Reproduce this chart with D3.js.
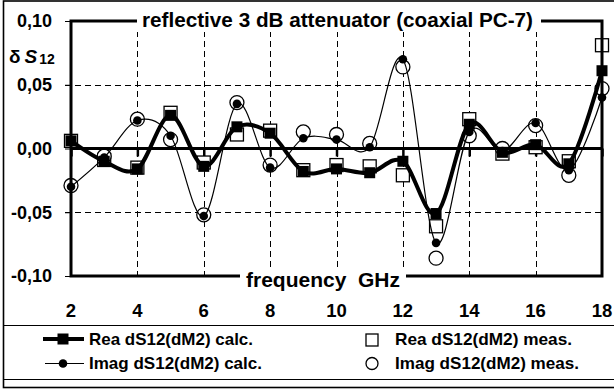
<!DOCTYPE html>
<html>
<head>
<meta charset="utf-8">
<script src="https://cdn.jsdelivr.net/npm/d3@7"></script>
<style>
    body { margin: 0; background: #fff; }
    svg { display: block; }
    text { font-family: "Liberation Sans", Arial, sans-serif; font-weight: bold; fill: #000; }
</style>
</head>
<body>
<svg id="chart" width="614" height="392"></svg>
<script>
// values
var freq = [2, 3, 4, 5, 6, 7, 8, 9, 10, 11, 12, 13, 14, 15, 16, 17, 18];
var reCalc = [0.006, -0.010, -0.016, 0.026, -0.014, 0.017, 0.012, -0.018, -0.016, -0.019, -0.010, -0.051, 0.019, -0.003, 0.003, -0.012, 0.061];
var reMeas = [0.006, -0.009, -0.015, 0.028, -0.011, 0.011, 0.014, -0.017, -0.013, -0.014, -0.021, -0.061, 0.023, -0.004, 0.001, -0.010, 0.081];
var imCalc = [-0.030, -0.007, 0.022, 0.010, -0.053, 0.035, -0.015, 0.008, 0.007, 0.001, 0.070, -0.074, 0.013, -0.002, 0.020, -0.017, 0.040];
var imMeas = [-0.029, -0.006, 0.023, 0.007, -0.052, 0.036, -0.013, 0.013, 0.011, 0.004, 0.064, -0.086, 0.010, 0.000, 0.018, -0.021, 0.047];
var xTicks = [2, 4, 6, 8, 10, 12, 14, 16, 18];
var yTicks = [-0.10, -0.05, 0.00, 0.05, 0.10];
var legendNames = ['Rea dS12(dM2) calc.', 'Imag dS12(dM2) calc.', 'Rea dS12(dM2) meas.', 'Imag dS12(dM2) meas.'];

var svg = d3.select('#chart');
var x = d3.scaleLinear().domain([2, 18]).range([71, 602]);
var y = d3.scaleLinear().domain([-0.1, 0.1]).range([276, 21]);
var comma = d3.formatLocale({decimal: ',', thousands: '.', grouping: [3], currency: ['', ''], minus: '-'}).format('.2f');

function pts(vals) {
    return freq.map(function (f, i) { return [f, vals[i]]; });
}

// outer frame and legend separators
svg.append('rect').attr('x', 3.5).attr('y', 1).attr('width', 620).attr('height', 386.5)
    .attr('fill', 'none').attr('stroke', '#000').attr('stroke-width', 1.6);
svg.append('line').attr('x1', 3).attr('x2', 614).attr('y1', 325.5).attr('y2', 325.5).attr('stroke', '#000');
svg.append('line').attr('x1', 3).attr('x2', 614).attr('y1', 379.5).attr('y2', 379.5).attr('stroke', '#000');

// dashed grid
var grid = svg.append('g').attr('stroke', '#000').attr('stroke-width', 1).attr('stroke-dasharray', '6,4');
grid.selectAll('line.v').data(xTicks.slice(1, -1)).enter().append('line')
    .attr('x1', function (d) { return Math.round(x(d)) + 0.5; })
    .attr('x2', function (d) { return Math.round(x(d)) + 0.5; })
    .attr('y1', y(0.1)).attr('y2', y(-0.1));
grid.selectAll('line.h').data([-0.05, 0.05]).enter().append('line')
    .attr('x1', x(2) - 6).attr('x2', x(18))
    .attr('y1', function (d) { return Math.round(y(d)) + 0.5; })
    .attr('y2', function (d) { return Math.round(y(d)) + 0.5; });

// y axis with comma decimals
var yAxis = svg.append('g').attr('transform', 'translate(' + x(2) + ',0)')
    .call(d3.axisLeft(y).tickValues(yTicks).tickSize(6).tickPadding(13).tickFormat(comma));
yAxis.select('.domain').remove();
yAxis.selectAll('text').style('font-size', '18px').attr('font-family', null);

// ticks on the zero line
var xAxis = svg.append('g').attr('transform', 'translate(0,' + y(0) + ')')
    .call(d3.axisBottom(x).tickValues(xTicks).tickSize(8).tickFormat(''));
xAxis.select('.domain').remove();
xAxis.selectAll('line').attr('stroke-width', 2.5);

// x tick labels under the plot
svg.append('g').selectAll('text').data(xTicks).enter().append('text')
    .attr('x', function (d) { return x(d); })
    .attr('y', 316.5)
    .attr('text-anchor', 'middle')
    .style('font-size', '18.5px')
    .text(function (d) { return d; });

// measured markers
svg.append('g').selectAll('rect').data(pts(reMeas)).enter().append('rect')
    .attr('x', function (d) { return x(d[0]) - 6.5; })
    .attr('y', function (d) { return y(d[1]) - 6.5; })
    .attr('width', 13).attr('height', 13)
    .attr('fill', '#fff').attr('stroke', '#000').attr('stroke-width', 1.3);
svg.append('g').selectAll('circle').data(pts(imMeas)).enter().append('circle')
    .attr('cx', function (d) { return x(d[0]); })
    .attr('cy', function (d) { return y(d[1]); })
    .attr('r', 7)
    .attr('fill', '#fff').attr('stroke', '#000').attr('stroke-width', 1.3);

// smoothed calc lines
var line = d3.line()
    .x(function (d) { return x(d[0]); })
    .y(function (d) { return y(d[1]); })
    .curve(d3.curveCardinal.tension(0));

svg.append('path').datum(pts(imCalc)).attr('d', line)
    .attr('fill', 'none').attr('stroke', '#000').attr('stroke-width', 1.2);
svg.append('g').selectAll('circle').data(pts(imCalc)).enter().append('circle')
    .attr('cx', function (d) { return x(d[0]); })
    .attr('cy', function (d) { return y(d[1]); })
    .attr('r', 4.3).attr('fill', '#000');

svg.append('path').datum(pts(reCalc)).attr('d', line)
    .attr('fill', 'none').attr('stroke', '#000').attr('stroke-width', 4);
svg.append('g').selectAll('rect').data(pts(reCalc)).enter().append('rect')
    .attr('x', function (d) { return x(d[0]) - 5.5; })
    .attr('y', function (d) { return y(d[1]) - 5.5; })
    .attr('width', 11).attr('height', 11).attr('fill', '#000');

// axis frame: zero line, left, right, top and bottom
var frame = svg.append('g').attr('stroke', '#000').attr('stroke-width', 3).attr('fill', 'none');
frame.append('line').attr('x1', x(2)).attr('x2', x(18)).attr('y1', y(0)).attr('y2', y(0));
frame.append('path')
    .attr('d', 'M' + x(2) + ',' + y(0.1) + 'V' + y(-0.1) + 'H' + x(18) + 'V' + y(0.1) + 'Z');

// title on the top frame line
svg.append('rect').attr('x', 137).attr('y', 10).attr('width', 404).attr('height', 22).attr('fill', '#fff');
svg.append('text').attr('x', 142).attr('y', 27)
    .attr('textLength', 391).attr('lengthAdjust', 'spacingAndGlyphs')
    .style('font-size', '20px')
    .text('reflective 3 dB attenuator (coaxial PC-7)');

// x axis label on the bottom frame line
svg.append('rect').attr('x', 240).attr('y', 268).attr('width', 166).attr('height', 24).attr('fill', '#fff');
svg.append('text').attr('x', 246).attr('y', 287)
    .attr('textLength', 154).attr('lengthAdjust', 'spacingAndGlyphs')
    .style('font-size', '20px').style('white-space', 'pre')
    .text('frequency  GHz');

// y axis label
var yl = svg.append('text').attr('x', 9).attr('y', 63).style('font-size', '19px');
yl.append('tspan').text('δ');
yl.append('tspan').attr('dx', 4).style('font-style', 'italic').text('S');
yl.append('tspan').attr('dx', 2).attr('dy', 1).style('font-size', '14px').text('12');

// legend
var legend = svg.append('g');
var lg1 = legend.append('g').attr('transform', 'translate(0,339)');
lg1.append('line').attr('x1', 43).attr('x2', 84).attr('stroke', '#000').attr('stroke-width', 4);
lg1.append('rect').attr('x', 57.5).attr('y', -5.5).attr('width', 11).attr('height', 11).attr('fill', '#000');
var lg2 = legend.append('g').attr('transform', 'translate(0,363.5)');
lg2.append('line').attr('x1', 45).attr('x2', 84).attr('stroke', '#000').attr('stroke-width', 1.2);
lg2.append('circle').attr('cx', 63).attr('r', 4.3).attr('fill', '#000');
var lg3 = legend.append('g').attr('transform', 'translate(0,340)');
lg3.append('rect').attr('x', 366).attr('y', -6).attr('width', 12).attr('height', 12)
    .attr('fill', '#fff').attr('stroke', '#000').attr('stroke-width', 1.3);
var lg4 = legend.append('g').attr('transform', 'translate(0,363.5)');
lg4.append('circle').attr('cx', 372).attr('r', 6)
    .attr('fill', '#fff').attr('stroke', '#000').attr('stroke-width', 1.3);

var legendPos = [[89, 344.5, 164], [89, 368.5, 173], [395, 344.5, 177], [395, 368.5, 184]];
legend.selectAll('text.lab').data(legendNames).enter().append('text')
    .attr('x', function (d, i) { return legendPos[i][0]; })
    .attr('y', function (d, i) { return legendPos[i][1]; })
    .attr('textLength', function (d, i) { return legendPos[i][2]; })
    .attr('lengthAdjust', 'spacingAndGlyphs')
    .style('font-size', '17px')
    .text(function (d) { return d; });
</script>
</body>
</html>
